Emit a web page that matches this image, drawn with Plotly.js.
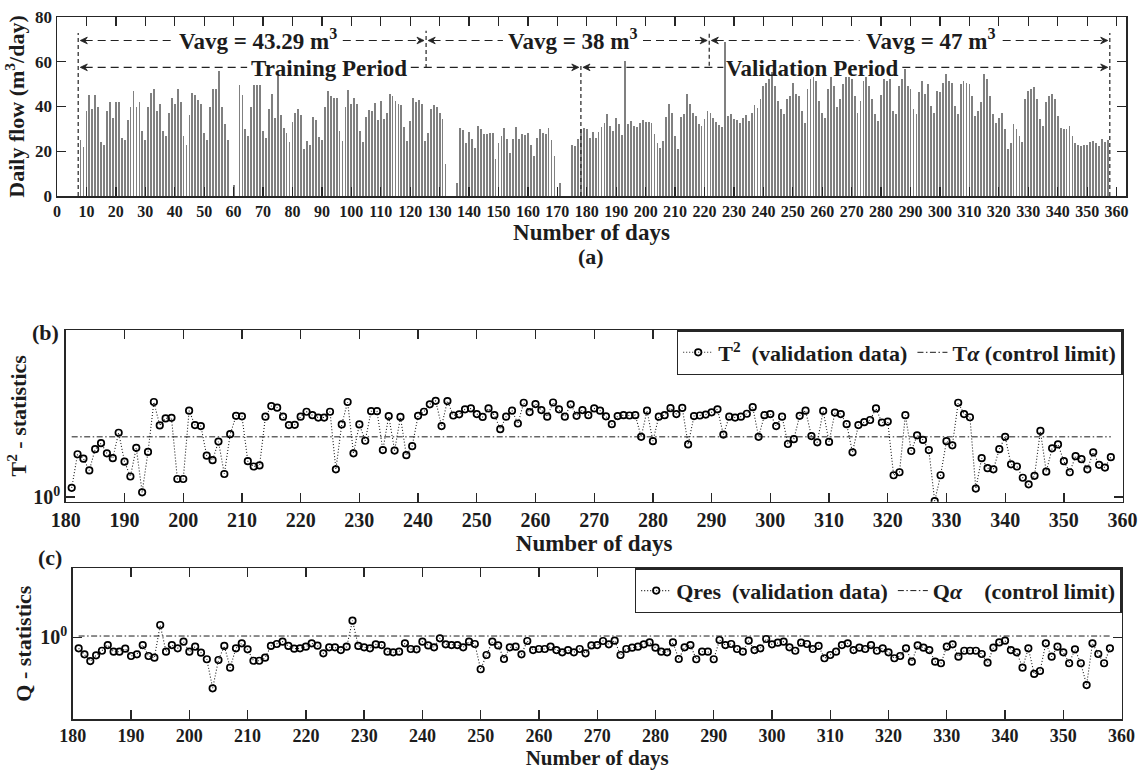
<!DOCTYPE html>
<html>
<head>
<meta charset="utf-8">
<script src="https://cdn.plot.ly/plotly-3.0.1.min.js"></script>
<style>html,body{margin:0;padding:0;background:#fff}#chart{width:1146px;height:771px}</style>
</head>
<body>
<div id="chart"></div>
<script>
// ---------------- DATA ----------------
// (a) Daily flow (m3/day), one value per day starting at FLOW_FIRST_DAY; null = no data
const FLOW_FIRST_DAY = 8;
const dailyFlow = [
  // days 8-58
  25,22,38,45,39,45,40, 24,23,38,42,35,42,42, 26,25,34,40,47,40,42, 29,25,40,46,48,38,41,
  29,27,37,44,41,48,42, 27,23,36,46,45,43,41, 28,25,40,48,48,56,40, 32,25,
  // days 59-61
  null,5,null,
  // days 62-108
  49.5,45,30,27,40,49.5,49.5,49.5,29,26,39,45.5,35,53.5,36,30.5,28,24,33,37,39,36,21,24.5,23,35.5,34,26.5,25,
  40,47,44.5,44,44,29,24.5,40,47.5,41,44,41,29,24,35.5,38.5,38,41.5,
  // days 109-132
  34,42.5,34.6,37,45.8,44.6,42.5,41,40.6,31,24.5,33.7,43.9,41.8,42.7,41,24.5,28,38.8,40.6,39.8,37,34.3,14.5,
  // days 133-136
  null,null,null,6,
  // days 137-169
  30.5,29.3,23.8,28.6,25.3,21.6,31.3,29.8,27.8,27.8,28.3,28.3,16.6,23.5,26.8,30.5,25.3,19.3,25.6,31,25.6,27.5,
  27.1,28.3,23,18.1,26,29.8,28.3,27.5,30.5,25,18,
  // days 170-174
  null,6,null,null,null,
  // days 175-193
  23,22.3,25.3,29.8,30.5,29.8,26,28.6,26,28.6,31,32.8,36.5,31.3,29,35,32,27.1,60.5,
  // days 194-226
  32,33.5,31.3,31,32.5,34,33,33,32.8,27.5,23.8,21.6,24.5,35.5,41,37.3,26.8,21.1,35.5,36.5,45.5,41.3,37.3,35.8,
  32,31.3,34.3,38,37.3,35,33,31.6,31,
  // day 227
  69,
  // days 228-245
  35.8,36.5,34.3,34,32.8,35,36,33.5,37.3,40.6,39.5,43.3,49.3,50.7,52.5,55.5,49,42.5,
  // days 246-357
  38.8,36.5,43.3,44.8,50.7,45.5,44.8,38,32.8,47.8,
  52.2,53,51.5,42.5,37.3,35,48,53,49.3,40,
  43.3,50,53.4,53.4,52.2,44.8,37.3,42.5,51.5,53,
  49.3,43.3,36.5,33.5,45,52.2,51.5,52.2,38,36.5,
  49.3,52.2,56.7,49.3,47.8,38.8,36.5,46.3,51.5,45.5,
  50,40.3,37.3,47,46.3,50.7,54.5,51.5,50.7,40.3,
  36.5,50,51.5,50.7,50,44.8,35.8,38,41.8,54.5,
  52.2,44.8,36.5,32.8,35,37.3,30,20.8,23.8,32,
  29.8,26.8,24,43.3,47,47.8,48.5,43.3,34.3,31.3,
  41.8,44.8,45.5,43.3,35.8,30.5,29.8,29.8,31.3,26.8,
  23.8,23,22.3,23,23,24.1,24.6,23.8,22.3,25.3,
  24,25
];

// (b) and (c) statistics for the validation days, starting at STAT_FIRST_DAY
const STAT_FIRST_DAY = 181;
const t2Values = [
  1.12,1.70,1.61,1.39,1.81,1.95,1.72,1.62,2.22,1.55,
  1.29,1.84,1.06,1.75,3.25,2.43,2.65,2.67,1.25,1.25,
  2.92,2.44,2.41,1.67,1.58,1.99,1.33,2.18,2.74,2.72,
  1.56,1.46,1.48,2.71,3.09,3.03,2.71,2.44,2.45,2.71,
  2.88,2.76,2.68,2.68,2.88,1.41,2.46,3.25,1.72,2.46,
  2.01,2.90,2.90,1.79,2.73,1.78,2.70,1.68,1.88,2.74,
  2.88,3.16,3.30,2.41,3.29,2.75,2.79,2.97,3.00,2.80,
  2.70,3.00,2.76,2.32,2.71,2.92,2.49,3.22,2.87,3.17,
  2.94,2.71,3.23,2.97,2.71,3.16,2.74,2.94,2.76,3.00,
  2.92,2.72,2.47,2.73,2.76,2.75,2.76,2.11,2.92,2.00,
  2.71,2.76,3.01,2.80,3.02,1.92,2.73,2.75,2.78,2.86,
  2.97,2.17,2.71,2.68,2.71,2.81,3.05,2.11,2.76,2.80,
  2.41,2.71,1.93,2.05,2.74,2.92,2.13,1.97,2.91,1.98,
  2.85,2.80,2.47,1.74,2.44,2.53,2.60,3.00,2.52,2.55,
  1.31,1.36,2.76,1.77,2.15,2.03,1.79,0.95,1.31,2.00,
  1.90,3.22,2.80,2.69,1.11,1.62,1.43,1.41,1.81,2.11,
  1.50,1.46,1.27,1.17,1.30,2.27,1.37,1.83,1.92,1.56,
  1.36,1.66,1.60,1.41,1.74,1.49,1.44,1.64
];
const T2_LIMIT = 2.11;

const qValues = [
  0.776,0.676,0.579,0.661,0.734,0.837,0.718,0.718,0.769,0.650,
  0.676,0.837,0.650,0.625,1.327,0.718,0.837,0.776,0.904,0.718,
  0.805,0.702,0.603,0.309,0.593,0.819,0.497,0.776,0.871,0.758,
  0.583,0.583,0.625,0.819,0.857,0.904,0.819,0.769,0.776,0.805,
  0.871,0.824,0.692,0.793,0.793,0.746,0.805,1.466,0.819,0.793,
  0.776,0.849,0.837,0.718,0.708,0.718,0.871,0.764,0.758,0.904,
  0.830,0.793,0.977,0.851,0.837,0.837,0.793,0.904,0.857,0.479,
  0.665,0.904,0.830,0.607,0.793,0.805,0.676,0.918,0.746,0.764,
  0.764,0.805,0.746,0.708,0.746,0.708,0.764,0.692,0.830,0.837,
  0.918,0.851,0.925,0.665,0.764,0.787,0.805,0.851,0.888,0.787,
  0.718,0.708,0.888,0.607,0.793,0.837,0.603,0.718,0.718,0.603,
  0.940,0.837,0.857,0.764,0.718,0.925,0.746,0.776,0.962,0.851,
  0.883,0.904,0.793,0.734,0.883,0.857,0.764,0.819,0.617,0.665,
  0.718,0.837,0.871,0.746,0.787,0.764,0.837,0.734,0.776,0.708,
  0.617,0.650,0.776,0.570,0.830,0.787,0.746,0.570,0.550,0.805,
  0.851,0.640,0.734,0.734,0.734,0.681,0.557,0.787,0.888,0.925,
  0.746,0.708,0.497,0.776,0.430,0.460,0.871,0.640,0.805,0.708,
  0.550,0.758,0.550,0.333,0.871,0.681,0.550,0.776
];
const Q_LIMIT = 1.03;

// Period annotations of panel (a)
const periodBounds = [7.2, 125.4, 178, 221.6, 357.7];
const avgLabels = ['Vavg = 43.29 m<sup>3</sup>', 'Vavg = 38 m<sup>3</sup>', 'Vavg = 47 m<sup>3</sup>'];
const periodLabels = ['Training Period', 'Validation Period'];

// ---------------- LAYOUT HELPERS ----------------
const W = 1146, H = 771;
const fx = p => p / W;
const fy = p => 1 - p / H;
const AX = '#262626';
const TXT = '#1c1c1c';
const FONT = 'Liberation Serif, Times New Roman, serif';
const bold = s => ({family: FONT, size: s, color: TXT, weight: 'bold'});

const flowDays = dailyFlow.map((_, i) => FLOW_FIRST_DAY + i);
const statDays = t2Values.map((_, i) => STAT_FIRST_DAY + i);
const statEnds = [statDays[0], statDays[statDays.length - 1]];

function axis(extra) {
  return Object.assign({
    showline: true, linecolor: AX, linewidth: 1.5, mirror: 'ticks',
    ticks: 'inside', ticklen: 9, tickwidth: 1.3, tickcolor: AX,
    showgrid: false, zeroline: false, tickfont: bold(17)
  }, extra);
}

const DOT = '1px,2px';
const DASHDOT = '6px,2.5px,1.5px,2.5px';
const traces = [
  {type: 'bar', x: flowDays, y: dailyFlow, width: 0.62, xaxis: 'x', yaxis: 'y',
   marker: {color: '#808080', line: {width: 0}}, showlegend: false},
  {type: 'scatter', mode: 'lines+markers', x: statDays, y: t2Values, xaxis: 'x2', yaxis: 'y2',
   name: 'T<sup>2</sup>\u00a0\u00a0(validation data)', legend: 'legend',
   line: {dash: DOT, width: 1.1, color: '#1a1a1a'},
   marker: {symbol: 'circle-open', size: 6.5, color: '#000', line: {width: 1.7, color: '#000'}}},
  {type: 'scatter', mode: 'lines', x: statEnds, y: [T2_LIMIT, T2_LIMIT], xaxis: 'x2', yaxis: 'y2',
   name: 'T<i>\u03b1</i> (control limit)', legend: 'legend',
   line: {dash: DASHDOT, width: 1, color: '#1a1a1a'}},
  {type: 'scatter', mode: 'lines+markers', x: statDays, y: qValues, xaxis: 'x3', yaxis: 'y3',
   name: 'Qres\u00a0\u00a0(validation data)', legend: 'legend2',
   line: {dash: DOT, width: 1.1, color: '#1a1a1a'},
   marker: {symbol: 'circle-open', size: 6.5, color: '#000', line: {width: 1.7, color: '#000'}}},
  {type: 'scatter', mode: 'lines', x: statEnds, y: [Q_LIMIT, Q_LIMIT], xaxis: 'x3', yaxis: 'y3',
   name: 'Q<i>\u03b1</i>\u00a0\u00a0\u00a0\u00a0(control limit)', legend: 'legend2',
   line: {dash: DASHDOT, width: 1, color: '#1a1a1a'}}
];

// ---------- panel (a) annotation geometry (data coordinates) ----------
const Y_TOP = 69.5, Y_MID = 57.5;
const avgCenters = [68.4, 175.3, 297];
const avgHalf = [28.7, 23.8, 24.3];
const perCenters = [92.4, 256.8];
const perHalf = [27.8, 30.4];
const GAP = 0.7;
const shapes = [];
const dash = (x0, x1, y0, y1, pattern) => shapes.push({type: 'line', xref: 'x', yref: 'y', x0, x1, y0, y1,
  line: {color: '#222', width: 1.2, dash: pattern}});
// top row
for (let k = 0; k < 3; k++) {
  const a = [periodBounds[0], periodBounds[1], periodBounds[3]][k] + GAP;
  const b = [periodBounds[1], periodBounds[3], periodBounds[4]][k] - GAP;
  dash(a + 1.5, avgCenters[k] - avgHalf[k], Y_TOP, Y_TOP, '8px,5px');
  dash(avgCenters[k] + avgHalf[k], b - 1.5, Y_TOP, Y_TOP, '8px,5px');
}
// middle row
for (let k = 0; k < 2; k++) {
  const a = [periodBounds[0], periodBounds[2]][k] + GAP;
  const b = [periodBounds[2], periodBounds[4]][k] - GAP;
  dash(a + 1.5, perCenters[k] - perHalf[k], Y_MID, Y_MID, '8px,5px');
  dash(perCenters[k] + perHalf[k], b - 1.5, Y_MID, Y_MID, '8px,5px');
}
// verticals
dash(periodBounds[0], periodBounds[0], 0, 72.8, '4px,3px');
dash(periodBounds[1], periodBounds[1], 57.2, 73.9, '4px,3px');
dash(periodBounds[2], periodBounds[2], 0, 59.4, '4px,3px');
dash(periodBounds[3], periodBounds[3], 58.2, 73.9, '4px,3px');
dash(periodBounds[4], periodBounds[4], 0, 72.8, '4px,3px');

// arrowheads as small filled paths (dir = +1 points right, -1 points left)
const head = (tip, y, dir) => {
  const bx = tip - dir * 2.4, nx = tip - dir * 1.6;
  shapes.push({type: 'path', xref: 'x', yref: 'y',
    path: `M ${tip},${y} L ${bx},${y + 1.5} L ${nx},${y} L ${bx},${y - 1.5} Z`,
    fillcolor: '#222', line: {color: '#222', width: 0.8}});
};
head(periodBounds[0] + GAP, Y_TOP, -1);
head(periodBounds[1] - GAP, Y_TOP, 1); head(periodBounds[1] + GAP, Y_TOP, -1);
head(periodBounds[3] - GAP, Y_TOP, 1); head(periodBounds[3] + GAP, Y_TOP, -1);
head(periodBounds[4] - GAP, Y_TOP, 1);
head(periodBounds[0] + GAP, Y_MID, -1);
head(periodBounds[2] - GAP, Y_MID, 1); head(periodBounds[2] + GAP, Y_MID, -1);
head(periodBounds[4] - GAP, Y_MID, 1);

const annotations = [];
avgLabels.forEach((t, k) => annotations.push({xref: 'x', yref: 'y', x: avgCenters[k], y: Y_TOP,
  text: t, showarrow: false, font: bold(23), yanchor: 'middle', yshift: 1}));
periodLabels.forEach((t, k) => annotations.push({xref: 'x', yref: 'y', x: perCenters[k], y: Y_MID,
  text: t, showarrow: false, font: bold(23), yanchor: 'middle', yshift: -1}));

// panel letters
annotations.push({xref: 'paper', yref: 'paper', x: fx(591), y: fy(257), text: '(a)', showarrow: false,
  font: bold(22), xanchor: 'center', yanchor: 'middle'});
annotations.push({xref: 'paper', yref: 'paper', x: fx(45), y: fy(332), text: '(b)', showarrow: false,
  font: bold(22), xanchor: 'center', yanchor: 'middle'});
annotations.push({xref: 'paper', yref: 'paper', x: fx(50), y: fy(557), text: '(c)', showarrow: false,
  font: bold(22), xanchor: 'center', yanchor: 'middle'});

const legendBase = {
  orientation: 'h', xanchor: 'right', yanchor: 'top', bgcolor: '#fff',
  bordercolor: AX, borderwidth: 1.5, font: bold(22), itemwidth: 30, tracegroupgap: 0,
  itemclick: false, itemdoubleclick: false
};

const layout = {
  width: W, height: H, margin: {l: 0, r: 0, t: 0, b: 0},
  paper_bgcolor: '#fff', plot_bgcolor: '#fff',
  font: {family: FONT, color: TXT},
  bargap: 0,
  xaxis: axis({domain: [fx(57), fx(1126)], range: [0, 363.2], tick0: 0, dtick: 10, anchor: 'y',
    tickfont: bold(16),
    title: {text: 'Number of days', font: bold(23), standoff: 4}}),
  yaxis: axis({domain: [fy(196), fy(17)], range: [0, 80], tick0: 0, dtick: 20, anchor: 'x',
    title: {text: 'Daily flow (m<sup>3</sup>/day)', font: bold(22), standoff: 4}}),
  xaxis2: axis({domain: [fx(65.7), fx(1122.7)], range: [179.98, 360.02], tick0: 180, dtick: 10, anchor: 'y2',
    tickfont: bold(20),
    title: {text: 'Number of days', font: bold(23), standoff: 2}}),
  yaxis2: axis({domain: [fy(501.7), fy(330)], type: 'log', range: [-0.0253, 0.9], anchor: 'x2',
    tickvals: [1], ticktext: ['10<sup>0</sup>'], tickfont: bold(20),
    title: {text: 'T<sup>2</sup> - statistics', font: bold(22), standoff: 0}}),
  xaxis3: axis({domain: [fx(72.7), fx(1121.7)], range: [179.98, 360.02], tick0: 180, dtick: 10, anchor: 'y3',
    tickfont: bold(18),
    title: {text: 'Number of days', font: bold(21), standoff: 3}}),
  yaxis3: axis({domain: [fy(719), fy(568.3)], type: 'log', range: [-0.817, 0.69], anchor: 'x3',
    tickvals: [1], ticktext: ['10<sup>0</sup>'], tickfont: bold(20),
    title: {text: 'Q - statistics', font: bold(22), standoff: 2}}),
  legend: Object.assign({}, legendBase, {x: fx(1122.7), y: fy(330)}),
  legend2: Object.assign({}, legendBase, {x: fx(1121.7), y: fy(568.3)}),
  shapes: shapes,
  annotations: annotations,
  showlegend: true
};

Plotly.newPlot('chart', traces, layout, {displayModeBar: false, responsive: false, staticPlot: true});
</script>
</body>
</html>
